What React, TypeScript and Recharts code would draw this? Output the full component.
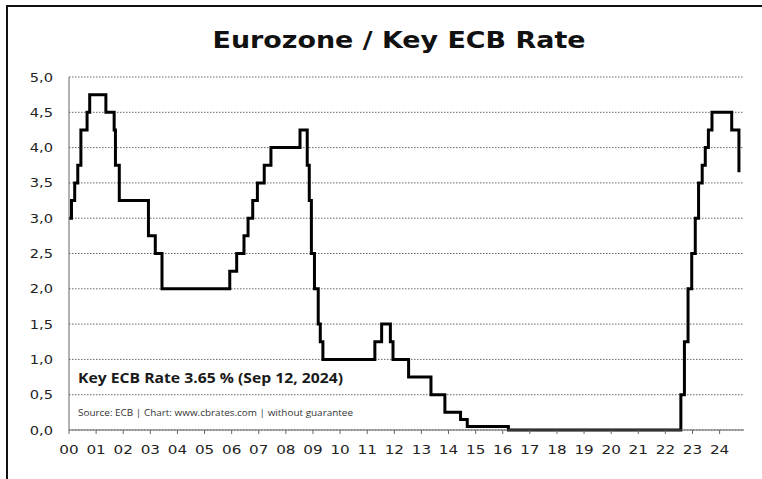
import { LineChart, Line, XAxis, YAxis, CartesianGrid } from 'recharts';

// ECB main refinancing rate: date of change -> new rate (%)
const changeDates = [
  '2000-01-01', '2000-02-04', '2000-03-17', '2000-04-28', '2000-06-09', '2000-09-01', '2000-10-06',
  '2001-05-11', '2001-08-31', '2001-09-18', '2001-11-09',
  '2002-12-06', '2003-03-07', '2003-06-06',
  '2005-12-06', '2006-03-08', '2006-06-15', '2006-08-09', '2006-10-11', '2006-12-13',
  '2007-03-14', '2007-06-13', '2008-07-09', '2008-10-15', '2008-11-12', '2008-12-10',
  '2009-01-21', '2009-03-11', '2009-04-08', '2009-05-13',
  '2011-04-13', '2011-07-13', '2011-11-09', '2011-12-14',
  '2012-07-11', '2013-05-08', '2013-11-13', '2014-06-11', '2014-09-10', '2016-03-16',
  '2022-07-27', '2022-09-14', '2022-11-02', '2022-12-21', '2023-02-08', '2023-03-22',
  '2023-05-10', '2023-06-21', '2023-08-02', '2023-09-20', '2024-06-12', '2024-09-18',
];
const rates = [
  3.0, 3.25, 3.5, 3.75, 4.25, 4.5, 4.75,
  4.5, 4.25, 3.75, 3.25,
  2.75, 2.5, 2.0,
  2.25, 2.5, 2.75, 3.0, 3.25, 3.5,
  3.75, 4.0, 4.25, 3.75, 3.25, 2.5,
  2.0, 1.5, 1.25, 1.0,
  1.25, 1.5, 1.25, 1.0,
  0.75, 0.5, 0.25, 0.15, 0.05, 0.0,
  0.5, 1.25, 2.0, 2.5, 3.0, 3.5,
  3.75, 4.0, 4.25, 4.5, 4.25, 3.65,
];
const yearTicks = [
  2000, 2001, 2002, 2003, 2004, 2005, 2006, 2007, 2008, 2009, 2010, 2011, 2012,
  2013, 2014, 2015, 2016, 2017, 2018, 2019, 2020, 2021, 2022, 2023, 2024,
];
const rateTicks = [0, 0.5, 1, 1.5, 2, 2.5, 3, 3.5, 4, 4.5, 5];

const TITLE = 'Eurozone / Key ECB Rate';
const NOTE = 'Key ECB Rate 3.65 % (Sep 12, 2024)';
const SOURCE = 'Source: ECB | Chart: www.cbrates.com | without guarantee';

// date string -> decimal year
const toYear = (d: string) => {
  const [y, m, day] = d.split('-').map(Number);
  return y + (m - 1 + (day - 1) / 30.5) / 12;
};

const data = changeDates.map((d, i) => ({ t: toYear(d), rate: rates[i] }));

const STRETCH = 1.17;

const YTick = ({ x, y, payload }: any) => (
  <text
    transform={`translate(${x},${y}) scale(${STRETCH},1)`}
    textAnchor="end"
    dy="0.36em"
    fontSize={12.5}
    fontFamily="'DejaVu Sans', Verdana, sans-serif"
    fill="#222"
  >
    {payload.value.toFixed(1).replace('.', ',')}
  </text>
);

const XTick = ({ x, y, payload }: any) => (
  <text
    transform={`translate(${x},${y}) scale(${STRETCH},1)`}
    textAnchor="middle"
    dy={14}
    fontSize={13}
    fontFamily="'DejaVu Sans', Verdana, sans-serif"
    fill="#222"
  >
    {String(payload.value % 100).padStart(2, '0')}
  </text>
);

export default function App() {
  return (
    <div style={{ position: 'absolute', left: 0, top: 0, width: 762, height: 479, background: '#fff', overflow: 'hidden' }}>
      <LineChart
        width={762}
        height={479}
        data={data}
        margin={{ top: 77, right: 18, left: 0, bottom: 19 }}
      >
        <CartesianGrid vertical={false} stroke="#666" strokeDasharray="1.5 1.5" />
        <XAxis
          type="number"
          dataKey="t"
          domain={[2000, 2024.9]}
          ticks={yearTicks}
          interval={0}
          allowDataOverflow
          height={30}
          stroke="#666"
          tickSize={4}
          tickMargin={6}
          tick={<XTick />}
        />
        <YAxis
          domain={[0, 5]}
          ticks={rateTicks}
          interval={0}
          width={69}
          stroke="#666"
          tickLine={false}
          tickSize={0}
          tickMargin={16}
          tick={<YTick />}
        />
        <Line
          type="stepAfter"
          dataKey="rate"
          stroke="#000"
          strokeWidth={3}
          dot={false}
          isAnimationActive={false}
        />
      </LineChart>
      <svg
        width={762}
        height={479}
        style={{ position: 'absolute', left: 0, top: 0, pointerEvents: 'none' }}
      >
        <line x1={7} y1={6} x2={762} y2={6} stroke="#111" strokeWidth={2} />
        <line x1={7} y1={5} x2={7} y2={479} stroke="#111" strokeWidth={2} />
        <text
          x={399}
          y={48}
          textAnchor="middle"
          fontSize={23}
          fontWeight="bold"
          fontFamily="'DejaVu Sans', Verdana, sans-serif"
          textLength={373}
          lengthAdjust="spacingAndGlyphs"
          fill="#111"
        >
          {TITLE}
        </text>
        <text
          x={78}
          y={383}
          fontSize={15}
          fontWeight="bold"
          fontFamily="'Open Sans', 'Noto Sans', sans-serif"
          textLength={265}
          lengthAdjust="spacingAndGlyphs"
          fill="#1a1a1a"
        >
          {NOTE}
        </text>
        <text
          x={78}
          y={416}
          fontSize={9.5}
          fontFamily="'Open Sans', 'Noto Sans', sans-serif"
          textLength={275}
          lengthAdjust="spacingAndGlyphs"
          fill="#333"
        >
          {SOURCE}
        </text>
      </svg>
    </div>
  );
}
